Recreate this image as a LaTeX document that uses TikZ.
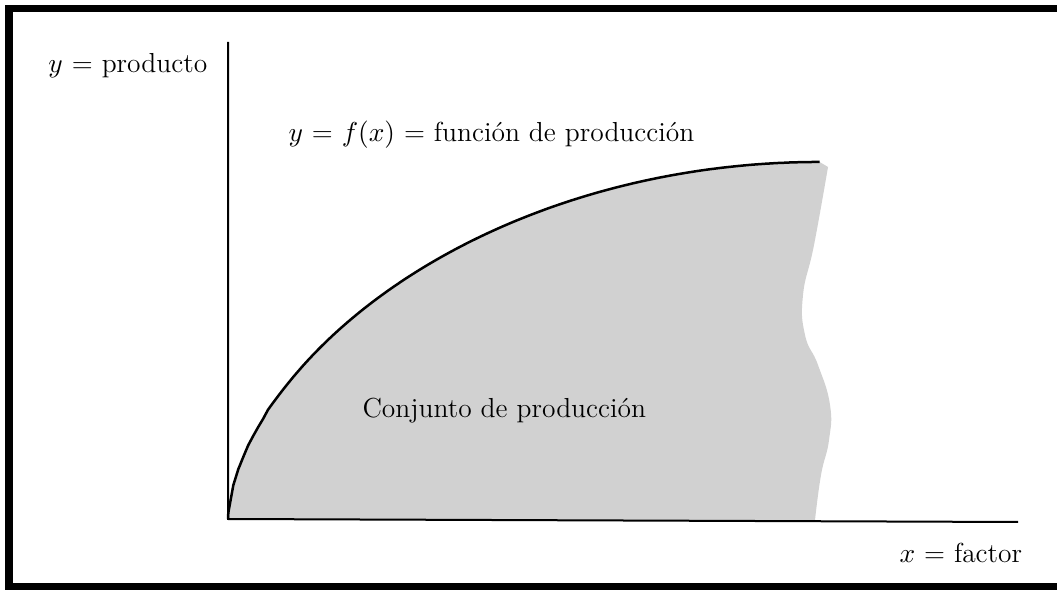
\documentclass[tikz,border=0pt]{standalone}
\usepackage{fontspec}

\tikzset{
  axisline/.style={line width=0.8pt},
  prodcurve/.style={line width=1pt},
  prodset/.style={fill=black!18},
  lbl/.style={font=\fontsize{11}{13}\selectfont, inner sep=0pt, anchor=base west}
}

\begin{document}
\begin{tikzpicture}[x=0.4pt, y=-0.4pt]
  \useasboundingbox (0,0) rectangle (1057,590);

  % Outer frame
  \draw[line width=2.9pt] (9,8.5) rectangle (1064,586.5);

  % Axis points
  \coordinate (O) at (228,519);
  \coordinate (ytop) at (228,42);
  \coordinate (xend) at (1018,522);

  % Production set (shaded)
  \fill[prodset] (O) -- plot[domain=0.0005:1, samples=120, variable=\t] ({228+592*\t},{519-357*(\t*(2-\t))^0.588})
    -- plot[smooth, tension=0.8] coordinates {(828,167) (814,245) (803,295) (805,335) (818,365) (830,405) (829,440) (821,475) (815,520)}
    -- (228,520) -- cycle;

  % Production function y = f(x)
  \draw[prodcurve] (O) -- plot[domain=0.0005:1, samples=120, variable=\t] ({228+592*\t},{519-357*(\t*(2-\t))^0.588});

  % Axes
  \draw[axisline] (ytop) -- (O) -- (xend);

  % Labels
  \node[lbl] (yprod) at (48,73) {$y$ = producto};
  \node[lbl] (fprod) at (288,142) {$y$ = $f(x)$ = función de producción};
  \node[lbl] (conj) at (362,418) {Conjunto de producción};
  \node[lbl] (xfac) at (899,562) {$x$ = factor};
\end{tikzpicture}
\end{document}
